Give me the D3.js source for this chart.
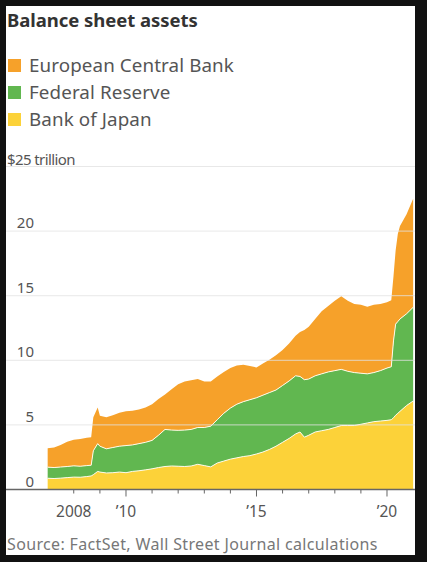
<!DOCTYPE html>
<html>
<head>
<meta charset="utf-8">
<script src="https://cdn.jsdelivr.net/npm/d3@7"></script>
<style>
  body { margin: 0; background: #111; }
  svg { display: block; }
  text { font-family: "Noto Sans", sans-serif; }
</style>
</head>
<body>
<div class="canvas"></div>
<script>
// month of each reading (quarterly, with extra points at the 2008 and 2020 jumps)
const dates = [
  '2007-01', '2007-04', '2007-07', '2007-10', '2008-01', '2008-04', '2008-07', '2008-09', '2008-10', '2008-12',
  '2009-01', '2009-04', '2009-07', '2009-10', '2010-01', '2010-04', '2010-07', '2010-10',
  '2011-01', '2011-04', '2011-07', '2011-10', '2012-01', '2012-04', '2012-07', '2012-10',
  '2013-01', '2013-04', '2013-07', '2013-10', '2014-01', '2014-04', '2014-07', '2014-10',
  '2015-01', '2015-04', '2015-07', '2015-10', '2016-01', '2016-04', '2016-07', '2016-09', '2016-11',
  '2017-01', '2017-04', '2017-07', '2017-10', '2018-01', '2018-04', '2018-07', '2018-10',
  '2019-01', '2019-04', '2019-07', '2019-10', '2020-01', '2020-03', '2020-04', '2020-05', '2020-06',
  '2020-07', '2020-10', '2021-01'
]

// $ trillion
const bojValues = [
  0.87, 0.85, 0.88, 0.92, 0.96, 0.95, 1.00, 1.05, 1.15, 1.40,
  1.35, 1.28, 1.30, 1.35, 1.30, 1.40, 1.45, 1.52,
  1.60, 1.70, 1.78, 1.82, 1.80, 1.78, 1.82, 1.95,
  1.85, 1.75, 2.05, 2.20, 2.35, 2.45, 2.55, 2.62,
  2.75, 2.90, 3.10, 3.35, 3.65, 3.95, 4.30, 4.45, 4.05,
  4.20, 4.45, 4.55, 4.65, 4.80, 4.95, 4.95, 4.95,
  5.05, 5.15, 5.25, 5.30, 5.35, 5.40, 5.55, 5.75, 5.90,
  6.05, 6.50, 6.85
]

const fedValues = [
  0.86, 0.85, 0.86, 0.86, 0.87, 0.85, 0.85, 0.83, 1.85, 2.15,
  2.00, 1.87, 1.95, 2.00, 2.10, 2.05, 2.10, 2.13,
  2.20, 2.50, 2.87, 2.78, 2.78, 2.82, 2.83, 2.85,
  2.95, 3.15, 3.35, 3.70, 3.95, 4.15, 4.25, 4.33,
  4.35, 4.40, 4.40, 4.35, 4.40, 4.45, 4.50, 4.30, 4.45,
  4.35, 4.35, 4.40, 4.45, 4.40, 4.35, 4.20, 4.10,
  3.95, 3.80, 3.80, 3.90, 4.05, 4.10, 5.95, 7.05, 7.10,
  7.15, 7.10, 7.25
]

const ecbValues = [
  1.47, 1.55, 1.71, 1.92, 2.02, 2.10, 2.15, 2.17, 2.60, 2.80,
  2.35, 2.45, 2.50, 2.60, 2.65, 2.65, 2.65, 2.70,
  2.80, 2.80, 2.70, 3.15, 3.57, 3.75, 3.80, 3.75,
  3.55, 3.45, 3.35, 3.20, 3.10, 3.00, 2.85, 2.60,
  2.35, 2.45, 2.55, 2.70, 2.75, 2.90, 3.10, 3.45, 3.85,
  4.05, 4.40, 4.85, 5.10, 5.40, 5.65, 5.45, 5.30,
  5.30, 5.20, 5.25, 5.15, 5.10, 5.15, 5.00, 5.70, 6.80,
  7.20, 7.70, 8.40
]

const seriesKeys = ['boj', 'fed', 'ecb']
const seriesNames = { ecb: 'European Central Bank', fed: 'Federal Reserve', boj: 'Bank of Japan' }
const legendOrder = ['ecb', 'fed', 'boj']
const yTicks = [0, 5, 10, 15, 20, 25]
const xTickYears = [2008, 2009, 2010, 2011, 2012, 2013, 2014, 2015, 2016, 2017, 2018, 2019, 2020]
const xTickLabels = { 2008: '2008', 2010: '\u201910', 2015: '\u201915', 2020: '\u201920' }

const color = d3.scaleOrdinal()
  .domain(seriesKeys)
  .range(['#fcd239', '#61b750', '#f6a12a'])

const parse = d3.timeParse('%Y-%m')
const data = dates.map((d, i) => ({
  date: parse(d),
  boj: bojValues[i],
  fed: fedValues[i],
  ecb: ecbValues[i]
}))

const dimension = { width: 427, height: 562 }
const panel = { left: 6, top: 6, right: 415, bottom: 555 }

const svg = d3.select('.canvas')
  .append('svg')
  .attr('width', dimension.width)
  .attr('height', dimension.height)

// white card
svg.append('rect')
  .attr('x', panel.left)
  .attr('y', panel.top)
  .attr('width', panel.right - panel.left)
  .attr('height', panel.bottom - panel.top)
  .attr('fill', '#fff')

// title
svg.append('text')
  .attr('x', 7)
  .attr('y', 27)
  .attr('fill', '#333')
  .attr('font-size', 18.5)
  .attr('font-weight', 700)
  .attr('letter-spacing', -0.05)
  .text('Balance sheet assets')

// legend
const legend = svg.selectAll('.legend')
  .data(legendOrder)
  .enter()
  .append('g')
    .attr('class', 'legend')
    .attr('transform', (d, i) => `translate(8, ${59 + i * 27})`)

legend.append('rect')
  .attr('width', 13)
  .attr('height', 13)
  .attr('fill', d => color(d))

legend.append('text')
  .attr('x', 21)
  .attr('y', 13)
  .attr('fill', '#555')
  .attr('font-size', 18.8)
  .attr('letter-spacing', 0.1)
  .text(d => seriesNames[d])

// scales
const x = d3.scaleTime()
  .domain([new Date(2005, 4, 28), new Date(2021, 0, 27)])
  .range([panel.left, panel.right])

const y = d3.scaleLinear()
  .domain([0, 25])
  .range([489.5, 166.5])

// stacked areas
const stack = d3.stack().keys(seriesKeys)
const layers = stack(data)

const area = d3.area()
  .x(d => x(d.data.date))
  .y0(d => y(d[0]))
  .y1(d => y(d[1]))

const graph = svg.append('g')

graph.selectAll('path.layer')
  .data(layers)
  .enter()
  .append('path')
    .attr('class', 'layer')
    .attr('fill', d => color(d.key))
    .attr('d', area)

// thin light borders between layers
const topLine = d3.line()
  .x(d => x(d.data.date))
  .y(d => y(d[1]))

graph.selectAll('path.edge')
  .data(layers.slice(0, 2))
  .enter()
  .append('path')
    .attr('class', 'edge')
    .attr('fill', 'none')
    .attr('stroke', '#fffbe8')
    .attr('stroke-width', 1)
    .attr('d', topLine)

// gridlines drawn over the areas
const grid = svg.append('g')
grid.selectAll('line')
  .data(yTicks.filter(d => d > 0))
  .enter()
  .append('line')
    .attr('x1', panel.left)
    .attr('x2', panel.right)
    .attr('y1', d => y(d))
    .attr('y2', d => y(d))
    .attr('stroke', '#e2e2e2')
    .attr('stroke-opacity', 0.8)
    .attr('stroke-width', 1)

// y labels
svg.selectAll('.ylabel')
  .data(yTicks.filter(d => d < 25))
  .enter()
  .append('text')
    .attr('class', 'ylabel')
    .attr('x', 34)
    .attr('y', d => y(d) - 3)
    .attr('text-anchor', 'end')
    .attr('fill', '#555')
    .attr('font-size', 15)
    .text(d => d)

svg.append('text')
  .attr('x', 7)
  .attr('y', y(25) - 2)
  .attr('fill', '#555')
  .attr('font-size', 15)
  .attr('letter-spacing', -0.6)
  .text('$25 trillion')

// x axis
const xAxis = svg.append('g')

xAxis.append('line')
  .attr('x1', panel.left)
  .attr('x2', panel.right)
  .attr('y1', y(0))
  .attr('y2', y(0))
  .attr('stroke', '#666')
  .attr('stroke-width', 1.5)

const ticks = xAxis.selectAll('.tick')
  .data(xTickYears)
  .enter()
  .append('g')
    .attr('class', 'tick')
    .attr('transform', d => `translate(${x(new Date(d, 0, 1))}, ${y(0)})`)

ticks.append('line')
  .attr('y1', 0)
  .attr('y2', d => d % 5 === 0 ? 7 : 4)
  .attr('stroke', '#666')
  .attr('stroke-width', 1)

ticks.filter(d => xTickLabels[d])
  .append('text')
    .attr('y', 27)
    .attr('text-anchor', 'middle')
    .attr('fill', '#555')
    .attr('font-size', 15.5)
    .text(d => xTickLabels[d])

// source
svg.append('text')
  .attr('x', 7)
  .attr('y', 550)
  .attr('fill', '#777')
  .attr('font-size', 16)
  .attr('letter-spacing', 0.35)
  .text('Source: FactSet, Wall Street Journal calculations')
</script>
</body>
</html>
